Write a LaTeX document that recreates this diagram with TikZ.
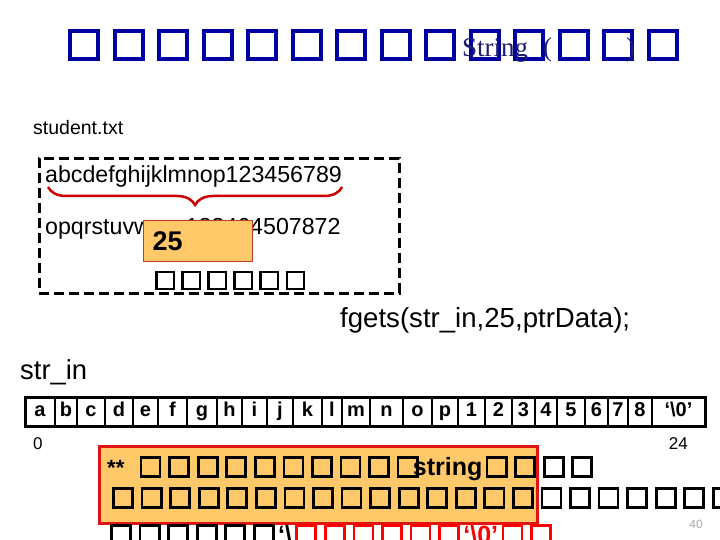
\documentclass[tikz,border=0pt]{standalone}
\usepackage{fontspec}
\setmainfont{Liberation Sans}
\newfontfamily\seriffont{Liberation Serif}
\usetikzlibrary{decorations.pathreplacing}

\definecolor{titleblue}{RGB}{0,0,160}
\definecolor{titlenavy}{RGB}{30,30,110}
\definecolor{notefill}{RGB}{255,200,105}
\definecolor{bracered}{RGB}{204,0,0}
\definecolor{noteborder}{RGB}{225,20,20}
\definecolor{cntborder}{RGB}{190,60,40}
\definecolor{pagegray}{RGB}{170,170,170}

% missing-glyph box, as the slide shows it
\newcommand\tofugap{.1em}
\newcommand\tofu{\kern\tofugap{\setlength\fboxsep{0pt}\setlength\fboxrule{.08em}\fbox{\rule{0pt}{.48em}\hspace{.48em}}}\kern\tofugap}
\newcommand\tofus[1]{\foreach\k in {1,...,#1}{\tofu}}
\newcommand\fsz[1]{\fontsize{#1}{#1}\selectfont}

\tikzset{
    txt/.style={inner sep=0pt,anchor=base west},
    filebox/.style={draw,line width=2.7pt,dash pattern=on 10pt off 5pt,inner sep=0pt,anchor=north west},
    cntbox/.style={draw=cntborder,line width=1pt,fill=notefill,anchor=north west,inner xsep=9pt,
        text width=91pt,align=left,minimum height=41pt,font=\fsz{27}\bfseries},
    notebox/.style={draw=noteborder,line width=3pt,fill=notefill,inner sep=0pt,anchor=north west},
    cell/.style={draw,line width=1.5pt,inner sep=0pt,outer sep=0pt,minimum height=29pt,
        text height=14.5pt,text depth=4pt,font=\fsz{20}\bfseries},
}

\begin{document}
\begin{tikzpicture}[x=1pt,y=-1pt,line join=miter]
    \useasboundingbox (0,0) rectangle (720,540);
    \fill[white] (0,0) rectangle (720,540);
    \clip (0,0) rectangle (720,540);

    \node[txt,text=titleblue,font=\fsz{50}] (title) at (61.75,57) {\def\tofugap{.125em}\tofus{14}};
    \node[txt,text=titlenavy,font=\seriffont\fsz{27}] (titlestr) at (462,57) {String\hspace{15pt}(\hspace{74pt})};

    \node[txt,font=\fsz{19.5}] (fname) at (33,135) {student.txt};
    \node[filebox,minimum width=360pt,minimum height=135pt] (file) at (38,157) {};
    \node[txt,font=\fsz{23.2}] (line1) at (45,183) {abcdefghijklmnop123456789};
    \draw[bracered,line width=2.5pt,decorate,decoration={brace,amplitude=18pt}]
        ([yshift=-4pt]line1.base east) -- ([xshift=3pt,yshift=-4pt]line1.base west);
    \node[txt,font=\fsz{23.2}] (line2) at (45,234) {opqrstuvwxyz123464507872};
    \node[cntbox] (cnt) at (143,220) {25};
    \node[txt,font=\fsz{31}] (fmsg) at (152,288) {\tofus{6}};

    \node[txt,font=\fsz{27.6}] (call) at (340,327) {fgets(str\_in,25,ptrData);};
    \node[txt,font=\fsz{27.4}] (arr) at (20,379) {str\_in};

    \foreach \xa/\xb/\lbl [count=\i] in {25/55/a,55/77/b,77/105/c,105/133/d,133/158/e,158/187/f,
        187/217/g,217/242/h,242/267/i,267/293/j,293/322/k,322/342/l,342/370/m,370/403/n,
        403/432/o,432/458/p,458/485/1,485/512/2,512/535/3,535/557/4,557/585/5,585/608/6,
        608/628/7,628/652/8,652/705/{‘\textbackslash0’}}{
        \pgfmathsetmacro\w{\xb-\xa}
        \node[cell,minimum width=\w pt,anchor=west] (c\i) at (\xa,411.5) {\lbl};
    }
    \draw[line width=3pt] (c1.north west) rectangle (c25.south east);
    \node[txt,font=\fsz{17}] (first) at (33,449) {0};
    \node[txt,anchor=base east,font=\fsz{17}] (last) at (688,449) {24};

    \node[notebox,minimum width=438pt,minimum height=77pt] (note) at (98,445) {};
    \node[txt,font=\fsz{34}] (note1) at (107,475)
        {{\fsz{22}\bfseries **}\hspace{12pt}\tofus{10}\kern-9pt{\fsz{25}\bfseries string}\tofus{4}};
    \node[txt,font=\fsz{34}] (note2) at (108.6,506) {\tofus{22}};
    \node[txt,font=\fsz{34}] (note3) at (106.6,543)
        {\tofus{6}{\fsz{25}\bfseries ‘\textbackslash}\textcolor{red}{\tofus{6}{\fsz{25}\bfseries ‘\textbackslash0’}\tofus{2}}};

    \node[txt,anchor=base east,text=pagegray,font=\fsz{12}] (page) at (703,528) {40};
\end{tikzpicture}
\end{document}
